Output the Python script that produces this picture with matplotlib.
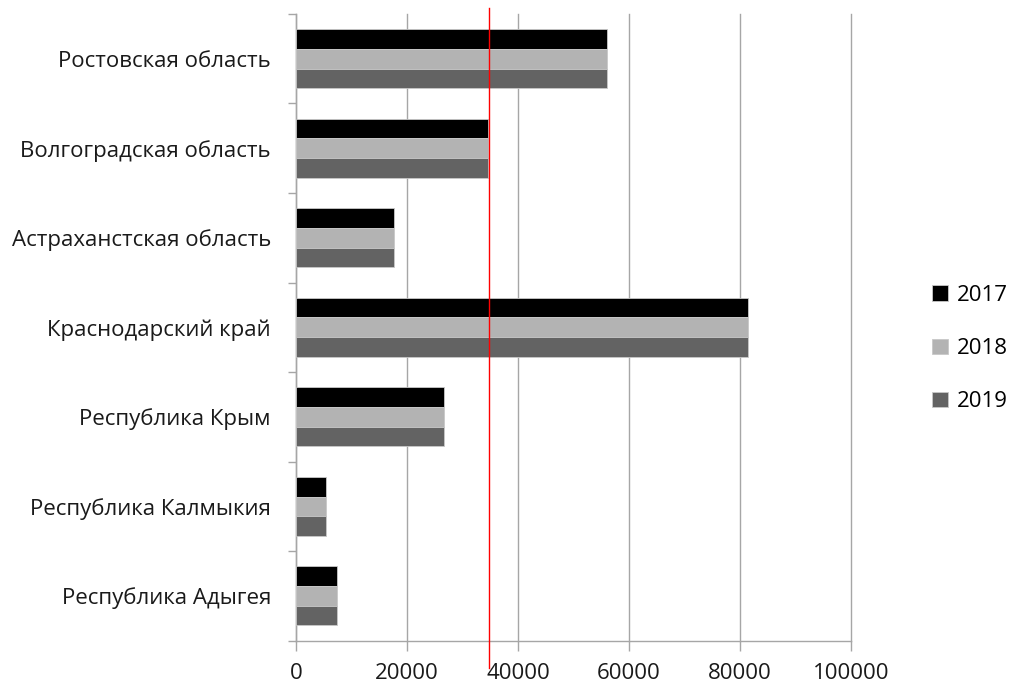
import numpy as np
import matplotlib.pyplot as plt
import matplotlib.transforms as mtransforms

plt.rcParams['font.family'] = ['Open Sans', 'DejaVu Sans']

# данные
regions = ['Ростовская область', 'Волгоградская область', 'Астраханстская область',
           'Краснодарский край', 'Республика Крым', 'Республика Калмыкия', 'Республика Адыгея']
v2017 = [56000, 34500, 17600, 81400, 26700, 5400, 7300]
v2018 = [56000, 34500, 17600, 81400, 26700, 5400, 7300]
v2019 = [56000, 34500, 17600, 81400, 26700, 5400, 7300]
years = ['2017', '2018', '2019']
colors = ['#000000', '#b3b3b3', '#636363']
ref_value = 34800

fig = plt.figure(figsize=(10.13, 6.91), dpi=100)
ax = fig.add_axes([0.2922, 0.0728, 0.548, 0.907])

y = np.arange(len(regions))
h = 0.22
for i, (vals, yr) in enumerate(zip([v2017, v2018, v2019], years)):
    ax.barh(y + (i - 1) * h, vals, height=h, color=colors[i], label=yr,
            edgecolor='#c8c8c8', linewidth=0.6, zorder=3)

ax.set_xlim(0, 100000)
ax.set_ylim(len(regions) - 0.5, -0.5)
ax.set_xticks(np.arange(0, 100001, 20000))
ax.set_yticks(y)
ax.set_yticklabels(regions)
ax.set_yticks(np.arange(-0.5, len(regions), 1), minor=True)
ax.tick_params(axis='y', which='major', length=0, pad=18, labelsize=16, labelcolor='#1a1a1a')
ax.tick_params(axis='y', which='minor', length=6, width=1.0, color='#a6a6a6')
ax.tick_params(axis='x', length=7, width=1.0, color='#a6a6a6', pad=9, labelsize=16, labelcolor='#1a1a1a')

ax.grid(axis='x', color='#a6a6a6', linewidth=1.0, zorder=0)
for gl in ax.get_xgridlines():
    gl.set_clip_on(False)
for s in ['top', 'right']:
    ax.spines[s].set_visible(False)
for s in ['left', 'bottom']:
    ax.spines[s].set_color('#a6a6a6')
    ax.spines[s].set_linewidth(1.0)

# красная линия
trans = mtransforms.blended_transform_factory(ax.transData, ax.transAxes)
ax.plot([ref_value, ref_value], [-0.044, 1.01], color='#ff0000', linewidth=1.0,
        transform=trans, clip_on=False, zorder=5)

leg = ax.legend(loc='center left', bbox_to_anchor=(1.11, 0.466), frameon=False,
                fontsize=16, handlelength=0.7, handleheight=0.7, handletextpad=0.4,
                labelspacing=1.45)

fig.savefig('out.png', dpi=100)
